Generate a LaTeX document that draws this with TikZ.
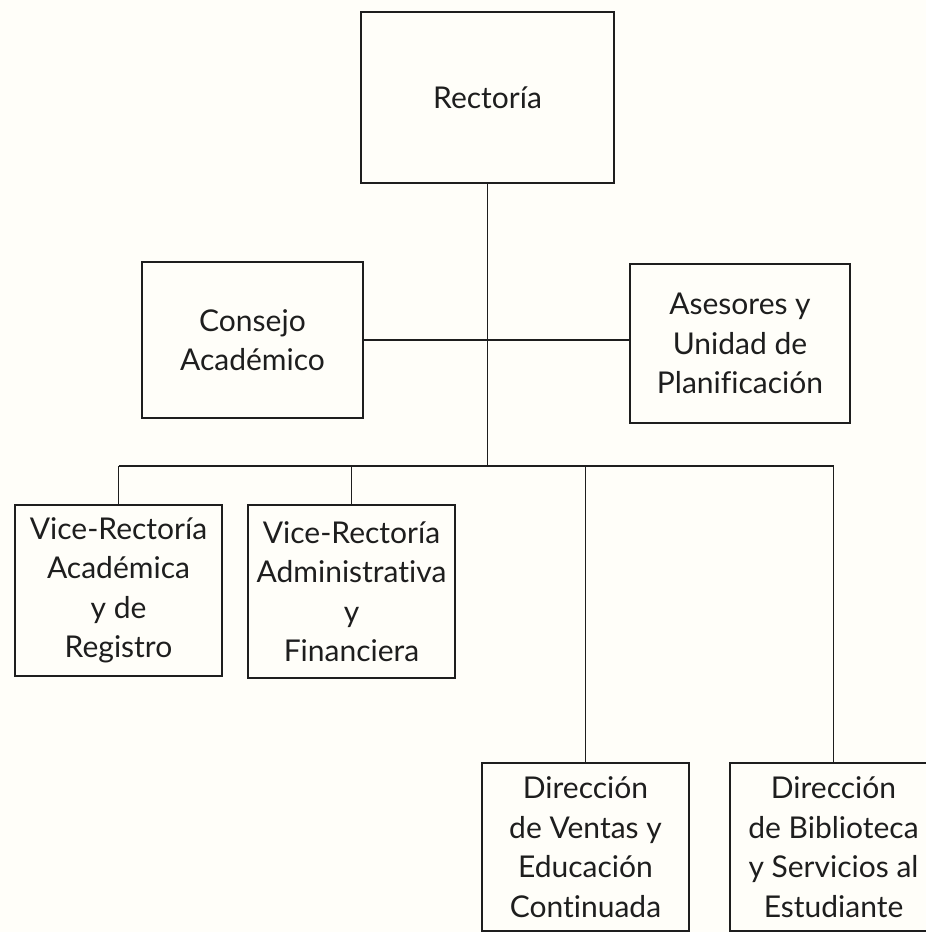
\documentclass[tikz,border=0pt]{standalone}
\usepackage{fontspec}
\setmainfont{Lato}[Ligatures=NoCommon]
\definecolor{linec}{RGB}{30,30,30}
\definecolor{bgc}{RGB}{255,254,249}
\begin{document}
\begin{tikzpicture}[x=1pt,y=-1pt,
  box/.style={draw=linec, line width=1.5pt, align=center, inner sep=0pt,
    text=linec, font=\fontsize{30}{39.5}\selectfont},
  conn/.style={draw=linec, line width=1.4pt}]
\fill[bgc] (0,0) rectangle (926,932);
\useasboundingbox (0,0) rectangle (926,932);
\node[box, minimum width=253pt, minimum height=171pt] (rect) at (487.5,97.5) {Rectoría};
\node[box, minimum width=221pt, minimum height=156pt] (cons) at (252.5,340) {Consejo\\Académico};
\node[box, minimum width=220pt, minimum height=159pt] (ases) at (740,343.5) {Asesores y\\Unidad de\\Planificación};
\node[box, minimum width=207pt, minimum height=171pt] (v1) at (118.5,590.5) {Vice-Rectoría\\Académica\\y de\\Registro};
\node[box, minimum width=207pt, minimum height=173pt] (v2) at (351.5,591.5) {Vice-Rectoría\\Administrativa\\y\\Financiera};
\node[box, minimum width=207pt, minimum height=168pt] (d3) at (585.5,847) {Dirección\\de Ventas y\\Educación\\Continuada};
\node[box, minimum width=207pt, minimum height=168pt] (d4) at (833.5,847) {Dirección\\de Biblioteca\\y Servicios al\\Estudiante};
\coordinate (busL) at (118.5,466);
\coordinate (busR) at (833.5,466);
\draw[conn] (busL) -- (busR);
\draw[conn] (rect.south) -- (rect.south |- busL);
\draw[conn] (cons.east) -- (cons.east -| ases.west);
\draw[conn] (v1.north) -- (v1.north |- busL);
\draw[conn] (v2.north) -- (v2.north |- busL);
\draw[conn] (d3.north) -- (d3.north |- busL);
\draw[conn] (d4.north) -- (d4.north |- busL);
\end{tikzpicture}
\end{document}
